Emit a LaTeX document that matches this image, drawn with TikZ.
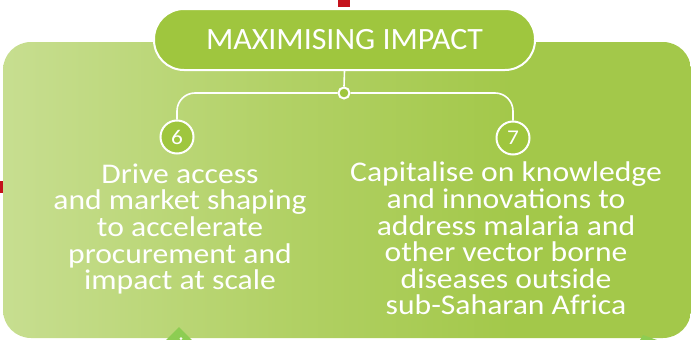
\documentclass[tikz,border=0pt]{standalone}
\usepackage{fontspec}
\setmainfont{Carlito}
\newfontfamily\bodyfont{Carlito}[FakeStretch=1.11]
\newfontfamily\titlefont{Carlito}[FakeStretch=1.03]
\definecolor{bgL}{RGB}{199,222,144}
\definecolor{bgM}{RGB}{178,209,102}
\definecolor{bgR}{RGB}{163,200,74}
\definecolor{pillgreen}{RGB}{159,198,62}
\definecolor{redmark}{RGB}{196,18,28}
\definecolor{trigreen}{RGB}{141,205,82}
\pgfdeclarehorizontalshading{bgshade}{100bp}{color(0bp)=(bgL); color(25bp)=(bgL); color(45bp)=(bgM); color(62bp)=(bgR); color(100bp)=(bgR)}
\tikzset{
  pillbox/.style={draw=white, line width=2pt, fill=pillgreen, rounded corners=30pt,
    minimum width=381pt, minimum height=61pt, inner sep=0pt, text=white,
    font=\titlefont\fontsize{31}{31}\selectfont},
  hubdot/.style={circle, draw=white, line width=2pt, fill=pillgreen, minimum size=11pt, inner sep=0pt},
  numcircle/.style={circle, draw=white, line width=2pt, fill=pillgreen, minimum size=33pt, inner sep=0pt,
    text=white, font=\bodyfont\fontsize{21}{21}\selectfont},
  conn/.style={draw=white, line width=1.6pt},
  bodytext/.style={text=white, align=center, inner sep=0pt, anchor=north,
    font=\bodyfont\fontsize{28.5}{26.6}\selectfont}
}
\begin{document}
\begin{tikzpicture}[x=1pt,y=-1pt]
\useasboundingbox (0,0) rectangle (691,340);
% background panel
\shade[shading=bgshade, rounded corners=28pt] (3,42) rectangle (691,338);
% red marks
\fill[redmark] (338,0) rectangle (350,7);
\fill[redmark] (0,181) rectangle (3,193);
% light green shapes at the bottom
\fill[trigreen] (179,327) -- (192,340) -- (166,340) -- cycle;
\fill[white] (181,338.5) circle (1.5);
\fill[trigreen] (643,335) -- (657,340) -- (640,340) -- cycle;
% title
\node[pillbox] (title) at (344.5,39.5) {MAXIMISING IMPACT};
% hub and numbers
\node[hubdot] (hub) at (344,93) {};
\node[numcircle] (n6) at (177,137) {6};
\node[numcircle] (n7) at (513,138) {7};
\draw[conn] (title.south) -- (hub.north);
\draw[conn, rounded corners=18pt] (hub.west) -| (n6.north);
\draw[conn, rounded corners=18pt] (hub.east) -| (n7.north);
% texts
\node[bodytext] (t6) at (180,163.5) {Drive access\\and market shaping\\to accelerate\\procurement and\\impact at scale};
\node[bodytext] (t7) at (506,162) {Capitalise on knowledge\\and innovations to\\address malaria and\\other vector borne\\diseases outside\\sub-Saharan Africa};
\end{tikzpicture}
\end{document}
